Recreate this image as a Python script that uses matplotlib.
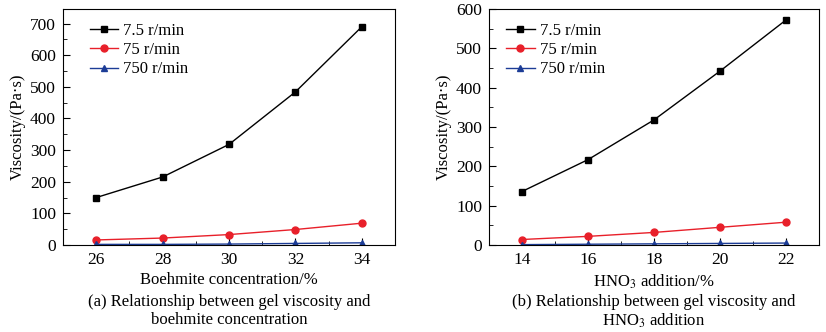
import matplotlib.pyplot as plt
from matplotlib.ticker import MultipleLocator

plt.rcParams['font.family'] = ['Liberation Serif', 'DejaVu Serif']
plt.rcParams['mathtext.fontset'] = 'stix'

# (a) boehmite concentration
boehmite = [26, 28, 30, 32, 34]
visc_a_slow = [150, 215, 318, 484, 690]
visc_a_mid = [16, 22, 33, 49, 69]
visc_a_fast = [2, 2, 3, 5, 7]

# (b) HNO3 addition
hno3 = [14, 16, 18, 20, 22]
visc_b_slow = [136, 217, 318, 442, 572]
visc_b_mid = [14, 22, 32, 45, 58]
visc_b_fast = [1, 2, 3, 4, 5]

speeds = ['7.5 r/min', '75 r/min', '750 r/min']
colors = ['black', '#e8202a', '#1c3c96']
markers = ['s', 'o', '^']

def panel(ax, x, series, xlim, ylim, xlabel, caption, legx):
	for ys, lab, c, m in zip(series, speeds, colors, markers):
		ax.plot(x, ys, color=c, marker=m, markersize=5, lw=1, label=lab)
	ax.set_xlim(*xlim)
	ax.set_ylim(*ylim)
	ax.set_xticks(x)
	ax.xaxis.set_minor_locator(MultipleLocator(1))
	ax.yaxis.set_major_locator(MultipleLocator(100))
	ax.yaxis.set_minor_locator(MultipleLocator(50))
	ax.tick_params(which='both', direction='in', top=False, right=False, labelsize=12.5)
	ax.tick_params(which='major', length=5, pad=5)
	ax.tick_params(which='minor', length=3)
	ax.set_ylabel('Viscosity/(Pa·s)', fontsize=12, labelpad=3)
	ax.set_xlabel(xlabel, fontsize=12, labelpad=3)
	ax.text(0.5, -0.208, caption, transform=ax.transAxes, ha='center', va='top',
		fontsize=12, linespacing=1.12)
	ax.legend(loc='upper left', bbox_to_anchor=(legx, 0.97), frameon=False, fontsize=12,
		handlelength=1.7, handletextpad=0.3, labelspacing=0.2, borderaxespad=0)

fig = plt.figure(figsize=(8.26, 3.32), dpi=100)
ax1 = fig.add_axes([0.0763, 0.262, 0.402, 0.711])
ax2 = fig.add_axes([0.592, 0.262, 0.3995, 0.711])

panel(ax1, boehmite, [visc_a_slow, visc_a_mid, visc_a_fast], (25, 35), (0, 746),
	'Boehmite concentration/%',
	'(a) Relationship between gel viscosity and\nboehmite concentration', 0.061)
panel(ax2, hno3, [visc_b_slow, visc_b_mid, visc_b_fast], (13, 23), (0, 600),
	r'HNO$_3$ addition/%',
	'(b) Relationship between gel viscosity and\n' + r'HNO$_3$ addition', 0.032)

fig.savefig('out.png', dpi=100)
